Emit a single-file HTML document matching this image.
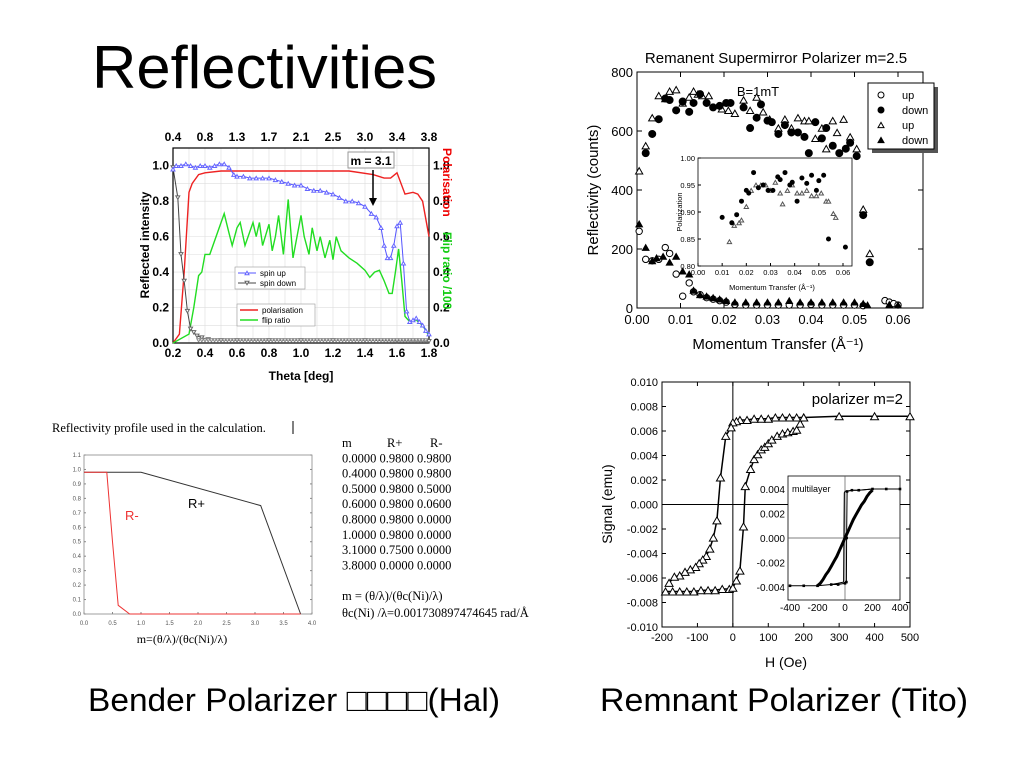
<!DOCTYPE html>
<html><head><meta charset="utf-8"><style>
html,body{margin:0;padding:0;background:#fff;}
svg{display:block;font-family:"Liberation Sans",Arial,sans-serif;}
.ser{font-family:"Liberation Serif","Times New Roman",serif;}
</style></head><body>
<svg id="s" width="1024" height="768" viewBox="0 0 1024 768" xmlns="http://www.w3.org/2000/svg">
<text x="92" y="88" font-size="60" textLength="345" lengthAdjust="spacingAndGlyphs">Reflectivities</text>
<text x="88" y="711" font-size="32" textLength="412" lengthAdjust="spacingAndGlyphs">Bender Polarizer □□□□(Hal)</text>
<text x="600" y="711" font-size="32" textLength="368" lengthAdjust="spacingAndGlyphs">Remnant Polarizer (Tito)</text>
<g id="c1"></g>
<g id="c2"></g>
<g id="c3"></g>
<g id="c4"></g>
<g id="tbl"></g>
</svg>
<script>
// ---- chart 1 data ----
const upX=[0.2,0.22,0.25,0.28,0.31,0.34,0.37,0.4,0.43,0.46,0.49,0.52,0.55,0.58,0.6,0.64,0.68,0.72,0.76,0.8,0.84,0.88,0.92,0.96,1.0,1.04,1.08,1.12,1.16,1.2,1.24,1.28,1.32,1.36,1.4,1.44,1.47,1.5,1.52,1.54,1.56,1.58,1.6,1.62,1.64,1.66,1.68,1.7,1.72,1.74,1.76,1.78,1.8];
const upY=[0.98,1.0,1.0,1.01,1.0,0.99,1.0,1.0,0.99,1.0,1.01,1.01,0.99,0.95,0.94,0.94,0.93,0.93,0.93,0.93,0.92,0.91,0.9,0.89,0.89,0.87,0.86,0.86,0.85,0.84,0.82,0.8,0.8,0.79,0.77,0.73,0.71,0.65,0.55,0.48,0.48,0.55,0.66,0.68,0.45,0.18,0.12,0.13,0.14,0.12,0.1,0.07,0.05];
const dnX=[0.2,0.23,0.25,0.27,0.29,0.31,0.33,0.35,0.38,0.42,0.5,0.6,0.8,1.0,1.2,1.4,1.6,1.8];
const dnY=[0.99,0.82,0.5,0.35,0.18,0.08,0.06,0.04,0.03,0.02,0.015,0.015,0.015,0.015,0.015,0.015,0.012,0.01];
const polX=[0.2,0.24,0.27,0.3,0.32,0.36,0.4,0.5,0.7,1.0,1.3,1.45,1.52,1.56,1.6,1.65,1.7,1.73,1.76,1.8];
const polY=[0.0,0.05,0.4,0.85,0.9,0.95,0.96,0.97,0.97,0.97,0.97,0.95,0.93,0.93,0.96,0.84,0.85,0.84,0.8,0.6];
const flipX=[0.2,0.3,0.33,0.36,0.38,0.4,0.43,0.52,0.55,0.57,0.6,0.62,0.65,0.7,0.72,0.74,0.76,0.8,0.82,0.84,0.86,0.89,0.92,0.95,1.0,1.02,1.05,1.07,1.1,1.12,1.15,1.18,1.2,1.22,1.25,1.3,1.35,1.4,1.43,1.46,1.49,1.52,1.55,1.57,1.59,1.61,1.63,1.65,1.68,1.72,1.76,1.8];
const flipY=[0.0,0.05,0.2,0.38,0.4,0.5,0.5,0.73,0.62,0.55,0.65,0.68,0.55,0.68,0.6,0.68,0.55,0.67,0.52,0.6,0.72,0.5,0.81,0.48,0.72,0.6,0.5,0.65,0.52,0.6,0.48,0.58,0.47,0.6,0.52,0.48,0.45,0.41,0.37,0.4,0.41,0.35,0.28,0.28,0.4,0.53,0.35,0.15,0.12,0.13,0.1,0.04];
const c1Bottom=['0.2','0.4','0.6','0.8','1.0','1.2','1.4','1.6','1.8'];
const c1Top=['0.4','0.8','1.3','1.7','2.1','2.5','3.0','3.4','3.8'];
const c1Left=['0.0','0.2','0.4','0.6','0.8','1.0'];
// ---- chart 2 data ----
const fcQ=[0.002,0.0035,0.005,0.0065,0.0075,0.009,0.0105,0.012,0.013,0.0145,0.016,0.0175,0.019,0.0205,0.0215,0.0245,0.026,0.0275,0.0285,0.03,0.031,0.0325,0.034,0.0355,0.037,0.0385,0.0395,0.041,0.0425,0.0435,0.045,0.0465,0.048,0.049,0.0505,0.052,0.0535];
const fcR=[525,590,640,710,705,670,700,665,695,725,695,680,685,695,695,680,610,645,690,635,630,590,620,595,595,580,525,630,575,610,550,525,540,560,515,315,155];
const otQ=[0.0005,0.002,0.0035,0.005,0.0065,0.0075,0.009,0.0105,0.012,0.013,0.014,0.015,0.0165,0.0195,0.021,0.0225,0.0245,0.026,0.0275,0.029,0.0305,0.0325,0.034,0.0355,0.037,0.0385,0.0395,0.041,0.0425,0.0435,0.045,0.046,0.0475,0.049,0.0505,0.052,0.0535];
const otR=[465,550,645,720,710,735,740,695,715,735,725,720,720,675,670,660,705,670,715,665,640,610,640,610,645,635,635,575,610,540,635,595,640,580,540,335,185];
const ocQ=[0.0005,0.002,0.0035,0.005,0.0065,0.0075,0.009,0.0105,0.012,0.013,0.0145,0.016,0.0175,0.019,0.0205,0.0225,0.025,0.0275,0.03,0.0325,0.035,0.0375,0.04,0.0425,0.045,0.0475,0.05,0.052,0.057,0.058,0.059,0.06];
const ocR=[260,165,160,165,205,185,115,40,85,55,45,35,30,25,20,12,10,10,10,10,10,10,12,10,10,10,10,8,25,20,15,10];
const ftQ=[0.0005,0.002,0.0035,0.0045,0.006,0.0075,0.009,0.0105,0.012,0.013,0.0145,0.016,0.0175,0.019,0.0205,0.0225,0.025,0.0275,0.03,0.0325,0.035,0.0375,0.04,0.0425,0.045,0.0475,0.05,0.052,0.053,0.058,0.06];
const ftR=[285,205,160,170,175,155,175,125,115,60,45,40,35,30,25,20,20,20,20,20,25,20,20,20,20,20,20,15,10,12,10];
const inFcQ=[0.01,0.014,0.016,0.018,0.02,0.021,0.023,0.025,0.027,0.029,0.031,0.033,0.034,0.036,0.038,0.039,0.041,0.043,0.045,0.047,0.049,0.05,0.052,0.054,0.061];
const inFcP=[0.89,0.88,0.895,0.92,0.94,0.935,0.973,0.945,0.95,0.94,0.94,0.965,0.96,0.973,0.95,0.955,0.92,0.963,0.953,0.968,0.94,0.958,0.968,0.85,0.835];
const inOtQ=[0.013,0.015,0.017,0.018,0.02,0.022,0.024,0.026,0.028,0.03,0.032,0.034,0.035,0.037,0.039,0.041,0.043,0.045,0.047,0.049,0.051,0.053,0.054,0.056,0.057];
const inOtP=[0.845,0.875,0.88,0.885,0.91,0.94,0.95,0.95,0.95,0.94,0.955,0.935,0.915,0.94,0.95,0.935,0.935,0.94,0.93,0.93,0.935,0.92,0.92,0.897,0.89];
const c2XT=['0.00','0.01','0.02','0.03','0.04','0.05','0.06'];
const c2YT=['0','200','400','600','800'];
const c2InX=['0.00','0.01','0.02','0.03','0.04','0.05','0.06'];
const c2InY=['0.80','0.85','0.90','0.95','1.00'];
// ---- chart 3 data ----
const dsH=[500,400,300,200,180,160,140,120,100,80,60,40,20,10,0,-5,-20,-35,-45,-55,-65,-75,-85,-95,-105,-120,-135,-150,-165,-180];
const dsM=[0.0072,0.0072,0.0072,0.0071,0.0071,0.0071,0.0071,0.0071,0.007,0.007,0.007,0.0069,0.0069,0.0068,0.0067,0.0063,0.0056,0.0022,-0.0013,-0.0027,-0.0036,-0.0042,-0.0045,-0.0048,-0.0051,-0.0053,-0.0055,-0.0058,-0.0059,-0.0064];
const asH=[-190,-170,-150,-130,-110,-90,-70,-50,-30,-10,0,10,20,30,35,50,60,70,80,90,100,110,125,140,155,170,180,190,200];
const asM=[-0.0071,-0.0071,-0.0071,-0.0071,-0.0071,-0.007,-0.007,-0.007,-0.0069,-0.0069,-0.0068,-0.0062,-0.0054,-0.0018,0.0015,0.0029,0.0037,0.0041,0.0045,0.0047,0.005,0.0053,0.0056,0.0058,0.0059,0.006,0.0061,0.0066,0.0071];
const sqH=[-400,-300,-200,-100,-50,0,10,12,15,50,100,200,300,400];
const sqM=[-0.0039,-0.0039,-0.0039,-0.0038,-0.0038,-0.0037,-0.0036,0.0,0.0038,0.0039,0.0039,0.004,0.004,0.004];
const sq2H=[400,200,100,50,0,-5,-8,-10,-50,-100];
const sq2M=[0.004,0.004,0.0039,0.0039,0.0038,0.0037,0.0,-0.0036,-0.0037,-0.0038];
const sgH=[-200,-180,-160,-140,-120,-100,-80,-60,-40,-20,0,20,40,60,80,100,120,140,160,180,200];
const sgM=[-0.0039,-0.0037,-0.0034,-0.003,-0.0027,-0.0023,-0.0019,-0.0015,-0.001,-0.0005,0.0,0.0005,0.001,0.0015,0.0019,0.0023,0.0027,0.003,0.0034,0.0037,0.0039];
const c3XT=['-200','-100','0','100','200','300','400','500'];
const c3YT=['-0.010','-0.008','-0.006','-0.004','-0.002','0.000','0.002','0.004','0.006','0.008','0.010'];
const c3InX=['-400','-200','0','200','400'];
const c3InY=['-0.004','-0.002','0.000','0.002','0.004'];
// ---- chart 4 data ----
const mVals=[0.0,0.4,0.5,0.6,0.8,1.0,3.1,3.8];
const rPlus=[0.98,0.98,0.98,0.98,0.98,0.98,0.75,0.0];
const rMinus=[0.98,0.98,0.5,0.06,0.0,0.0,0.0,0.0];
const c4XT=['0.0','0.5','1.0','1.5','2.0','2.5','3.0','3.5','4.0'];
const c4YT=['0.0','0.1','0.2','0.3','0.4','0.5','0.6','0.7','0.8','0.9','1.0','1.1'];

const NS='http://www.w3.org/2000/svg';
function mk(p,t,a,txt){const e=document.createElementNS(NS,t);for(const k in a)e.setAttribute(k,a[k]);if(txt!==undefined)e.textContent=txt;p.appendChild(e);return e;}
function lin(d0,d1,r0,r1){return v=>r0+(v-d0)/(d1-d0)*(r1-r0);}
function poly(p,xs,ys,sx,sy,col,w,name){const pts=xs.map((x,i)=>sx(x).toFixed(1)+','+sy(ys[i]).toFixed(1)).join(' ');const e=mk(p,'polyline',{points:pts,fill:'none',stroke:col,'stroke-width':w});

return e;}
function tri(p,x,y,s,fill,col,down,name){const h=s*1.75;const pts=down?`${x-s},${y-h/2} ${x+s},${y-h/2} ${x},${y+h/2}`:`${x-s},${y+h/2} ${x+s},${y+h/2} ${x},${y-h/2}`;const e=mk(p,'polygon',{points:pts,fill:fill,stroke:col,'stroke-width':1});

}
function circ(p,x,y,r,fill,name){const e=mk(p,'circle',{cx:x,cy:y,r:r,fill:fill,stroke:'#000','stroke-width':1});

}
function txt(p,x,y,s,a,name,extra){const e=mk(p,'text',Object.assign({x:x,y:y},extra||{}),s);
if(a)e.setAttribute('text-anchor',a);

return e;}

// ===== chart 1 =====
(function(){const g=document.getElementById('c1');
const L=173,R=429,T=148,B=343;const sx=lin(0.2,1.8,L,R),sy=lin(0,1.1,B,T);
mk(g,'rect',{x:L,y:T,width:R-L,height:B-T,fill:'#fff'});
for(let i=0;i<=16;i++){const x=sx(0.2+i*0.1);mk(g,'line',{x1:x,y1:T,x2:x,y2:B,stroke:'#ddd','stroke-width':0.6});}
for(let i=0;i<=11;i++){const y=sy(i*0.1);mk(g,'line',{x1:L,y1:y,x2:R,y2:y,stroke:'#ddd','stroke-width':0.6});}
mk(g,'rect',{x:L,y:T,width:R-L,height:B-T,fill:'none',stroke:'#000','stroke-width':1.2});
const gt=mk(g,'g',{'font-size':12,'font-weight':'bold'});
c1Bottom.forEach((t,i)=>txt(gt,sx(0.2+i*0.2),357,t,'middle','x-tick-label'));
c1Top.forEach((t,i)=>txt(gt,sx(0.2+i*0.2),141,t,'middle','top-x-tick-label'));
c1Left.forEach((t,i)=>{txt(gt,L-4,sy(i*0.2)+4,t,'end','y-tick-label');txt(gt,R+4,sy(i*0.2)+4,t,'start','right-y-tick-label');});
txt(g,301,380,'Theta [deg]','middle','x-axis-title',{'font-size':12,'font-weight':'bold'});
txt(g,0,0,'Reflected intensity','middle','y-axis-title',{'font-size':12,'font-weight':'bold',transform:'translate(149,245) rotate(-90)'});
txt(g,0,0,'Polarisation','start','right-axis-title-polarisation',{'font-size':12,'font-weight':'bold',fill:'#e00',transform:'translate(443,148) rotate(90)'});
txt(g,0,0,'Flip ratio /100','start','right-axis-title-flip',{'font-size':12,'font-weight':'bold',fill:'#1c1',transform:'translate(443,232) rotate(90)'});
poly(g,polX,polY,sx,sy,'#e22',1.4,'polarisation-line');
poly(g,flipX,flipY,sx,sy,'#2d2',1.4,'flip-ratio-line');
poly(g,dnX,dnY,sx,sy,'#444',1,'spin-down-line');
dnX.forEach((x,i)=>tri(g,sx(x),sy(dnY[i]),2,'#fff','#666',true,'spin-down-point'));
for(let x=0.36;x<1.8;x+=0.02){tri(g,sx(x),sy(0.015),1.8,'#fff','#888',true,'spin-down-point');}
poly(g,upX,upY,sx,sy,'#55f',1,'spin-up-line');
upX.forEach((x,i)=>tri(g,sx(x),sy(upY[i]),2,'#fff','#66f',false,'spin-up-point'));
mk(g,'rect',{x:348,y:152,width:46,height:16,fill:'#fff',stroke:'#999'});
txt(g,371,165,'m = 3.1','middle','m-annotation',{'font-size':12,'font-weight':'bold'});
mk(g,'line',{x1:373,y1:170,x2:373,y2:200,stroke:'#000','stroke-width':1.5});
mk(g,'polygon',{points:'369,198 377,198 373,206',fill:'#000'});
mk(g,'rect',{x:235,y:267,width:70,height:22,fill:'#fff',stroke:'#999','stroke-width':0.6});
mk(g,'line',{x1:238,y1:273,x2:256,y2:273,stroke:'#55f'});tri(g,247,273,2,'#fff','#66f',false,'legend-spin-up-marker');
txt(g,260,276,'spin up','start','legend-spin-up',{'font-size':8});
mk(g,'line',{x1:238,y1:283,x2:256,y2:283,stroke:'#444'});tri(g,247,283,2,'#fff','#666',true,'legend-spin-down-marker');
txt(g,260,286,'spin down','start','legend-spin-down',{'font-size':8});
mk(g,'rect',{x:237,y:304,width:78,height:22,fill:'#fff',stroke:'#999','stroke-width':0.6});
mk(g,'line',{x1:240,y1:310,x2:258,y2:310,stroke:'#e22','stroke-width':1.4});
txt(g,262,313,'polarisation','start','legend-polarisation',{'font-size':8});
mk(g,'line',{x1:240,y1:320,x2:258,y2:320,stroke:'#2d2','stroke-width':1.4});
txt(g,262,323,'flip ratio','start','legend-flip-ratio',{'font-size':8});
})();

// ===== chart 2 =====
(function(){const g=document.getElementById('c2');
const L=637,R=923,T=72,B=308;const sx=lin(0,0.06,L,898),sy=lin(0,800,B,T);
txt(g,776,63,'Remanent Supermirror Polarizer m=2.5','middle','chart-title',{'font-size':15});
mk(g,'rect',{x:L,y:T,width:R-L,height:B-T,fill:'none',stroke:'#000','stroke-width':1});
const gt=mk(g,'g',{'font-size':13});
c2XT.forEach((t,i)=>{const x=sx(i*0.01);txt(gt,x,324,t,'middle','x-tick-label');mk(g,'line',{x1:x,y1:B,x2:x,y2:B-5,stroke:'#000'});mk(g,'line',{x1:x,y1:T,x2:x,y2:T+5,stroke:'#000'});});
c2YT.forEach((t,i)=>{const y=sy(i*200);txt(gt,L-4,y+5,t,'end','y-tick-label');mk(g,'line',{x1:L,y1:y,x2:L+5,y2:y,stroke:'#000'});mk(g,'line',{x1:R,y1:y,x2:R-5,y2:y,stroke:'#000'});});
txt(g,778,349,'Momentum Transfer  (Å⁻¹)','middle','x-axis-title',{'font-size':15});
txt(g,0,0,'Reflectivity (counts)','middle','y-axis-title',{'font-size':15,transform:'translate(598,190) rotate(-90)'});
txt(g,758,96,'B=1mT','middle','field-annotation',{'font-size':13});
ocQ.forEach((q,i)=>circ(g,sx(q),sy(ocR[i]),3.2,'#fff','up-open-circle'));
ftQ.forEach((q,i)=>tri(g,sx(q),sy(ftR[i]),3.3,'#000','#000',false,'down-filled-triangle'));
otQ.forEach((q,i)=>tri(g,sx(q),sy(otR[i]),3.6,'#fff','#000',false,'up-open-triangle'));
fcQ.forEach((q,i)=>circ(g,sx(q),sy(fcR[i]),3.5,'#000','down-filled-circle'));
mk(g,'rect',{x:872,y:87,width:66,height:66,fill:'#555'});
mk(g,'rect',{x:868,y:83,width:66,height:66,fill:'#fff',stroke:'#000'});
const lg=[['up','oc'],['down','fc'],['up','ot'],['down','ft']];
lg.forEach((l,i)=>{const y=95+i*15;if(l[1]=='oc')circ(g,881,y,3,'#fff','legend-marker');if(l[1]=='fc')circ(g,881,y,3,'#000','legend-marker');if(l[1]=='ot')tri(g,881,y,3,'#fff','#000',false,'legend-marker');if(l[1]=='ft')tri(g,881,y,3,'#000','#000',false,'legend-marker');txt(g,902,y+4,l[0],'start','legend-label',{'font-size':11});});
const iL=698,iR=852,iT=158,iB=266;const ix=lin(0,0.06,iL,843),iy=lin(0.8,1.0,iB,iT);
mk(g,'rect',{x:iL,y:iT,width:iR-iL,height:iB-iT,fill:'#fff',stroke:'#000','stroke-width':0.8});
c2InX.forEach((t,i)=>{const x=ix(i*0.01);txt(g,x,275,t,'middle','inset-x-tick',{'font-size':7.5});mk(g,'line',{x1:x,y1:iB,x2:x,y2:iB-3,stroke:'#000'});});
c2InY.forEach((t,i)=>{const y=iy(0.8+i*0.05);txt(g,iL-3,y+3,t,'end','inset-y-tick',{'font-size':7.5});mk(g,'line',{x1:iL,y1:y,x2:iL+3,y2:y,stroke:'#000'});});
txt(g,772,290,'Momentum Transfer  (Å⁻¹)','middle','inset-x-title',{'font-size':7.5});
txt(g,0,0,'Polarization','middle','inset-y-title',{'font-size':7.5,transform:'translate(682,212) rotate(-90)'});
inOtQ.forEach((q,i)=>tri(g,ix(q),iy(inOtP[i]),2.2,'#fff','#555',false,'inset-triangle'));
inFcQ.forEach((q,i)=>circ(g,ix(q),iy(inFcP[i]),2,'#000','inset-circle'));
})();

// ===== chart 3 =====
(function(){const g=document.getElementById('c3');
const L=662,R=910,T=382,B=627;const sx=lin(-200,500,L,R),sy=lin(-0.01,0.01,B,T);
mk(g,'rect',{x:L,y:T,width:R-L,height:B-T,fill:'none',stroke:'#000','stroke-width':1});
mk(g,'line',{x1:sx(0),y1:T,x2:sx(0),y2:B,stroke:'#000'});
mk(g,'line',{x1:L,y1:sy(0),x2:R,y2:sy(0),stroke:'#000'});
c3XT.forEach((t,i)=>{const x=sx(-200+i*100);txt(g,x,641,t,'middle','x-tick-label',{'font-size':11});mk(g,'line',{x1:x,y1:B,x2:x,y2:B-4,stroke:'#000'});mk(g,'line',{x1:x,y1:T,x2:x,y2:T+4,stroke:'#000'});});
c3YT.forEach((t,i)=>{const y=sy(-0.01+i*0.002);txt(g,L-4,y+4,t,'end','y-tick-label',{'font-size':11});mk(g,'line',{x1:L,y1:y,x2:L+4,y2:y,stroke:'#000'});mk(g,'line',{x1:R,y1:y,x2:R-4,y2:y,stroke:'#000'});});
txt(g,786,667,'H (Oe)','middle','x-axis-title',{'font-size':14});
txt(g,0,0,'Signal (emu)','middle','y-axis-title',{'font-size':14,transform:'translate(612,504) rotate(-90)'});
txt(g,903,404,'polarizer m=2','end','chart-annotation',{'font-size':15});
poly(g,dsH,dsM,sx,sy,'#000',1.5,'descending-branch-line');
poly(g,asH,asM,sx,sy,'#000',1.5,'ascending-branch-line');
dsH.forEach((h,i)=>tri(g,sx(h),sy(dsM[i]),4,'#fff','#000',false,'descending-point'));
asH.forEach((h,i)=>tri(g,sx(h),sy(asM[i]),4,'#fff','#000',false,'ascending-point'));
const iL=788,iR=900,iT=476,iB=600;const ix=lin(-400,400,790,900),iy=lin(-0.004,0.004,587,489);
mk(g,'rect',{x:iL,y:iT,width:iR-iL,height:iB-iT,fill:'#fff',stroke:'#000','stroke-width':0.8});
mk(g,'line',{x1:ix(0),y1:iT,x2:ix(0),y2:iB,stroke:'#555','stroke-width':0.7});
mk(g,'line',{x1:iL,y1:iy(0),x2:iR,y2:iy(0),stroke:'#555','stroke-width':0.7});
c3InX.forEach((t,i)=>{txt(g,ix(-400+i*200),611,t,'middle','inset-x-tick',{'font-size':10});});
c3InY.forEach((t,i)=>{txt(g,iL-3,iy(-0.004+i*0.002)+4,t,'end','inset-y-tick',{'font-size':10});});
txt(g,792,492,'multilayer','start','inset-label',{'font-size':9});
poly(g,sqH,sqM,ix,iy,'#000',1,'inset-square-loop-up');
poly(g,sq2H,sq2M,ix,iy,'#000',1,'inset-square-loop-down');
poly(g,sgH,sgM,ix,iy,'#000',3,'inset-sigmoid-loop');
sqH.forEach((h,i)=>{const e=mk(g,'rect',{x:ix(h)-1.3,y:iy(sqM[i])-1.3,width:2.6,height:2.6,fill:'#000'});

});
})();

// ===== chart 4 =====
(function(){const g=document.getElementById('c4');
txt(g,52,432,'Reflectivity profile used in the calculation.','start','profile-caption',{'font-size':12.5,'class':'ser'});
mk(g,'line',{x1:293,y1:421,x2:293,y2:434,stroke:'#000'});
const L=84,R=312,T=455,B=614;const sx=lin(0,4,L,R),sy=lin(0,1.1,B,T);
mk(g,'rect',{x:L,y:T,width:R-L,height:B-T,fill:'none',stroke:'#888','stroke-width':0.8});
c4XT.forEach((t,i)=>{const x=sx(i*0.5);txt(g,x,625,t,'middle','x-tick-label',{'font-size':6,fill:'#555'});mk(g,'line',{x1:x,y1:B,x2:x,y2:B-2,stroke:'#888'});});
c4YT.forEach((t,i)=>{const y=sy(i*0.1);txt(g,L-3,y+2,t,'end','y-tick-label',{'font-size':6,fill:'#555'});mk(g,'line',{x1:L,y1:y,x2:L+2,y2:y,stroke:'#888'});mk(g,'line',{x1:R,y1:y,x2:R-2,y2:y,stroke:'#888'});});
poly(g,mVals,rPlus,sx,sy,'#333',1,'r-plus-line');
poly(g,mVals,rMinus,sx,sy,'#e33',1,'r-minus-line');
txt(g,188,508,'R+','start','r-plus-label',{'font-size':13});
txt(g,125,520,'R-','start','r-minus-label',{'font-size':13,fill:'#e33'});
txt(g,182,643,'m=(θ/λ)/(θc(Ni)/λ)','middle','x-axis-title',{'font-size':12,'class':'ser'});
})();

// ===== table =====
(function(){const g=document.getElementById('tbl');
const rows=[['m','R+','R-'],['0.0000','0.9800','0.9800'],['0.4000','0.9800','0.9800'],['0.5000','0.9800','0.5000'],['0.6000','0.9800','0.0600'],['0.8000','0.9800','0.0000'],['1.0000','0.9800','0.0000'],['3.1000','0.7500','0.0000'],['3.8000','0.0000','0.0000']];
rows.forEach((r,i)=>{const y=447+i*15.3;if(i==0){txt(g,342,y,'m','start','table-header',{'font-size':12.5,'class':'ser'});txt(g,387,y,'R+','start','table-header',{'font-size':12.5,'class':'ser'});txt(g,430,y,'R-','start','table-header',{'font-size':12.5,'class':'ser'});}
else txt(g,342,y,r.join(' '),'start','table-row',{'font-size':12.5,'class':'ser'});});
txt(g,342,600,'m =  (θ/λ)/(θc(Ni)/λ)','start','table-formula',{'font-size':12.5,'class':'ser'});
txt(g,342,617,'θc(Ni) /λ=0.001730897474645 rad/Å','start','table-constant',{'font-size':12.5,'class':'ser'});
})();
</script>
</body></html>
